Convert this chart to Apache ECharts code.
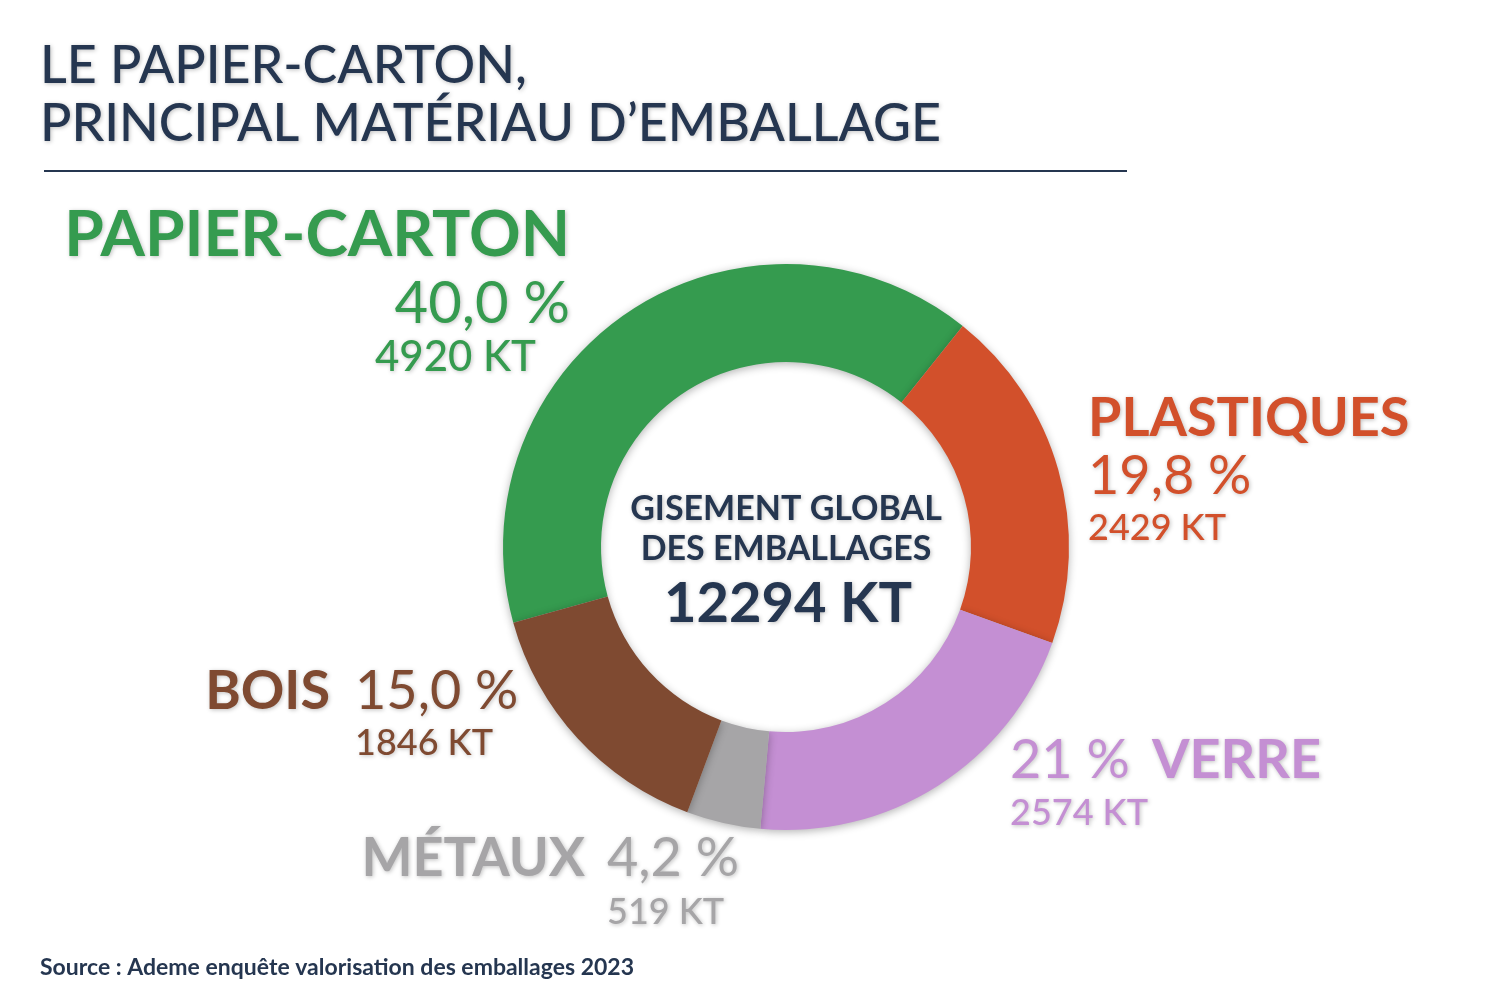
<!DOCTYPE html>
<html><head><meta charset="utf-8">
<script src="https://cdn.jsdelivr.net/npm/echarts@6/dist/echarts.min.js"></script>
<style>html,body{margin:0;background:#fff}#main{width:1500px;height:1000px}</style>
</head><body><div id="main"></div>
<script>
const names = ['PAPIER-CARTON', 'PLASTIQUES', 'VERRE', 'MÉTAUX', 'BOIS'];
const values = [4920, 2429, 2574, 519, 1846];
const percents = ['40,0 %', '19,8 %', '21 %', '4,2 %', '15,0 %'];
const colors = ['#359b4f', '#d2502b', '#c48fd3', '#a6a5a7', '#7f4a31'];
const total = '12294 KT';
const navy = '#253650';
const F = 'Lato';

let chart = echarts.init(document.getElementById('main'));
const shadow = {textShadowColor: 'rgba(0,0,0,0.25)', textShadowBlur: 4, textShadowOffsetX: 1, textShadowOffsetY: 1};
function t(x, y, text, size, color, weight, align) {
    return {type: 'text', x: x, y: y, style: Object.assign({text: text, font: (weight || 'normal') + ' ' + size + 'px ' + F,
        fill: color, textAlign: align || 'left', textVerticalAlign: 'top'}, shadow)};
}
const kt = v => v + ' KT';

chart.setOption({
    animation: false,
    series: [{
        type: 'pie', center: [786, 547], radius: [185, 283], startAngle: 195.5,
        label: {show: false}, labelLine: {show: false},
        itemStyle: {shadowColor: 'rgba(0,0,0,0.3)', shadowBlur: 8, shadowOffsetY: 2},
        data: names.map((n, i) => ({name: n, value: values[i], itemStyle: {color: colors[i]}}))
    }],
    graphic: [
        t(40, 40, 'LE PAPIER-CARTON,', 52, navy, '500'),
        t(40, 98, 'PRINCIPAL MATÉRIAU D’EMBALLAGE', 52, navy, '500'),
        {type: 'line', shape: {x1: 44, y1: 171, x2: 1127, y2: 171}, style: {stroke: navy, lineWidth: 2}},
        t(570, 203, names[0], 64, colors[0], 'bold', 'right'),
        t(570, 275, percents[0], 58, colors[0], 'normal', 'right'),
        t(375, 336, kt(values[0]), 42, colors[0], '500'),
        t(1088, 392, names[1], 54, colors[1], 'bold'),
        t(1088, 450, percents[1], 54, colors[1]),
        t(1088, 510, kt(values[1]), 36, colors[1], '500'),
        t(1010, 734, percents[2], 54, colors[2]),
        t(1152, 734, names[2], 54, colors[2], 'bold'),
        t(1010, 795, kt(values[2]), 36, colors[2], '500'),
        t(585, 832, names[3], 54, colors[3], 'bold', 'right'),
        t(607, 832, percents[3], 54, colors[3]),
        t(607, 894, kt(values[3]), 36, colors[3], '500'),
        t(330, 665, names[4], 54, colors[4], 'bold', 'right'),
        t(355, 665, percents[4], 54, colors[4]),
        t(355, 725, kt(values[4]), 36, colors[4], '500'),
        t(786, 492, 'GISEMENT GLOBAL', 34, navy, 'bold', 'center'),
        t(786, 532, 'DES EMBALLAGES', 34, navy, 'bold', 'center'),
        t(788, 576, total, 56, navy, 'bold', 'center'),
        {type: 'text', x: 40, y: 956, style: {text: 'Source : Ademe enquête valorisation des emballages 2023',
            font: 'bold 23px ' + F, fill: navy, textVerticalAlign: 'top'}}
    ]
});
</script></body></html>
